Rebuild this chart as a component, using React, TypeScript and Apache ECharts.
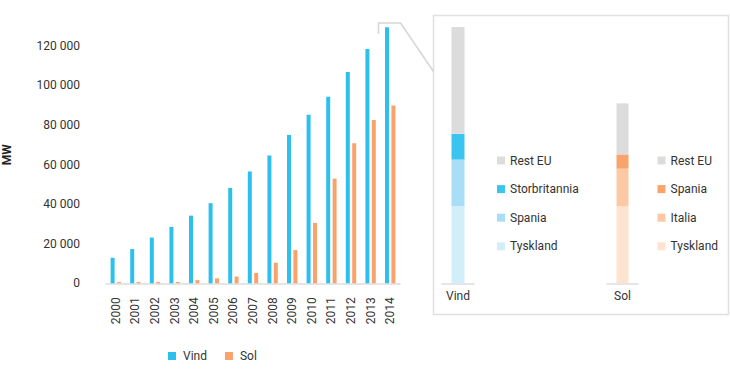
import React, { useEffect, useRef } from "react";
import * as echarts from "echarts";

const years = ["2000","2001","2002","2003","2004","2005","2006","2007","2008","2009","2010","2011","2012","2013","2014"];
const vind = [12900, 17300, 23100, 28500, 34200, 40500, 48200, 56500, 64600, 75000, 85200, 94200, 106800, 118400, 129400];
const sol = [600, 600, 650, 650, 1600, 2500, 3400, 5200, 10400, 16800, 30500, 52900, 70800, 82500, 89800];

const vindParts = ["Tyskland", "Spania", "Storbritannia", "Rest EU"];
const vindPartValues = [39000, 23500, 13000, 54000];
const vindPartColors = ["#d3eefb", "#a9def7", "#3cc4f1", "#dcdcdd"];

const solParts = ["Tyskland", "Italia", "Spania", "Rest EU"];
const solPartValues = [39000, 18900, 7200, 25800];
const solPartColors = ["#fde3d0", "#fcc9a4", "#f9a46c", "#dcdcdd"];

const BLUE = "#2dc0ef";
const ORANGE = "#f9a26b";
const FONT = "Roboto";
const TXT = "#333333";
const TOP = 26;
const H = 257.3;
const YMAX = 130000;

export default function App() {
  const ref = useRef<HTMLDivElement>(null);
  useEffect(() => {
    if (!ref.current) return;
    const chart = echarts.init(ref.current, null, { renderer: "svg" });
    const fmt = (v: number) => String(v).replace(/\B(?=(\d{3})+(?!\d))/g, " ");
    const hiddenY = (gi: number) => ({
      type: "value", gridIndex: gi, min: 0, max: YMAX, show: false,
      splitLine: { show: false },
    });
    const innerX = (gi: number, name: string) => ({
      type: "category", gridIndex: gi, data: [name],
      axisLine: { lineStyle: { color: "#dddddd", width: 1.5 } },
      axisTick: { show: false },
      axisLabel: { color: TXT, fontFamily: FONT, fontSize: 12, margin: 7 },
    });
    const series: any[] = [
      { name: "Vind", type: "bar", xAxisIndex: 0, yAxisIndex: 0, data: vind, barWidth: 4, barGap: "60%", itemStyle: { color: BLUE } },
      { name: "Sol", type: "bar", xAxisIndex: 0, yAxisIndex: 0, data: sol, barWidth: 4, barGap: "60%", itemStyle: { color: ORANGE } },
    ];
    vindParts.forEach((p, i) => {
      series.push({ name: "v:" + p, type: "bar", stack: "v", xAxisIndex: 1, yAxisIndex: 1, data: [vindPartValues[i]], barWidth: 13, itemStyle: { color: vindPartColors[i] } });
    });
    solParts.forEach((p, i) => {
      series.push({ name: "s:" + p, type: "bar", stack: "s", xAxisIndex: 2, yAxisIndex: 2, data: [solPartValues[i]], barWidth: 12, itemStyle: { color: solPartColors[i] } });
    });
    const innerLegend = (left: number, names: string[]) => ({
      orient: "vertical", left, top: 149.5, itemWidth: 8, itemHeight: 8, icon: "rect", itemGap: 16.6,
      selectedMode: false, data: names,
      formatter: (n: string) => n.slice(2),
      textStyle: { color: TXT, fontFamily: FONT, fontSize: 12 },
    });
    chart.setOption({
      animation: false,
      grid: [
        { left: 100, width: 300, top: TOP, height: H },
        { left: 442, width: 32, top: TOP, height: H },
        { left: 607, width: 31, top: TOP, height: H },
      ],
      xAxis: [
        {
          type: "category", gridIndex: 0, data: years,
          axisLine: { lineStyle: { color: "#dddddd", width: 1.5 } },
          axisTick: { show: false },
          axisLabel: { rotate: 90, color: TXT, fontFamily: FONT, fontSize: 12, margin: 14, interval: 0, padding: [4, 0, 0, 0] },
        },
        innerX(1, "Vind"),
        innerX(2, "Sol"),
      ],
      yAxis: [
        {
          type: "value", gridIndex: 0, min: 0, max: YMAX, interval: 20000,
          name: "MW", nameLocation: "middle", nameGap: 93,
          nameTextStyle: { color: "#222", fontFamily: FONT, fontSize: 12, fontWeight: "bold" },
          axisLine: { show: false }, axisTick: { show: false }, splitLine: { show: false },
          axisLabel: {
            color: TXT, fontFamily: FONT, fontSize: 12, margin: 26,
            formatter: (v: number) => (v % 20000 === 0 ? fmt(v) : ""),
          },
        },
        hiddenY(1),
        hiddenY(2),
      ],
      legend: [
        {
          left: 163, top: 345, itemWidth: 8, itemHeight: 8, icon: "rect", itemGap: 18,
          selectedMode: false, data: ["Vind", "Sol"],
          textStyle: { color: TXT, fontFamily: FONT, fontSize: 12, padding: [0, 0, 0, 2] },
        },
        innerLegend(492, ["v:Rest EU", "v:Storbritannia", "v:Spania", "v:Tyskland"]),
        innerLegend(652.5, ["s:Rest EU", "s:Spania", "s:Italia", "s:Tyskland"]),
      ],
      graphic: [
        { type: "rect", shape: { x: 433.5, y: 15.5, width: 295, height: 299 }, style: { fill: "none", stroke: "#e0e0e0", lineWidth: 1.5 }, silent: true },
        { type: "polyline", shape: { points: [[378.5, 34], [378.5, 23], [400.5, 23], [433.5, 71.5]] }, style: { fill: "none", stroke: "#d6d6d6", lineWidth: 1.5 }, silent: true },
      ],
      series,
    });
    return () => chart.dispose();
  }, []);
  return <div ref={ref} style={{ width: 730, height: 373, position: "absolute", left: 0, top: 0 }} />;
}
